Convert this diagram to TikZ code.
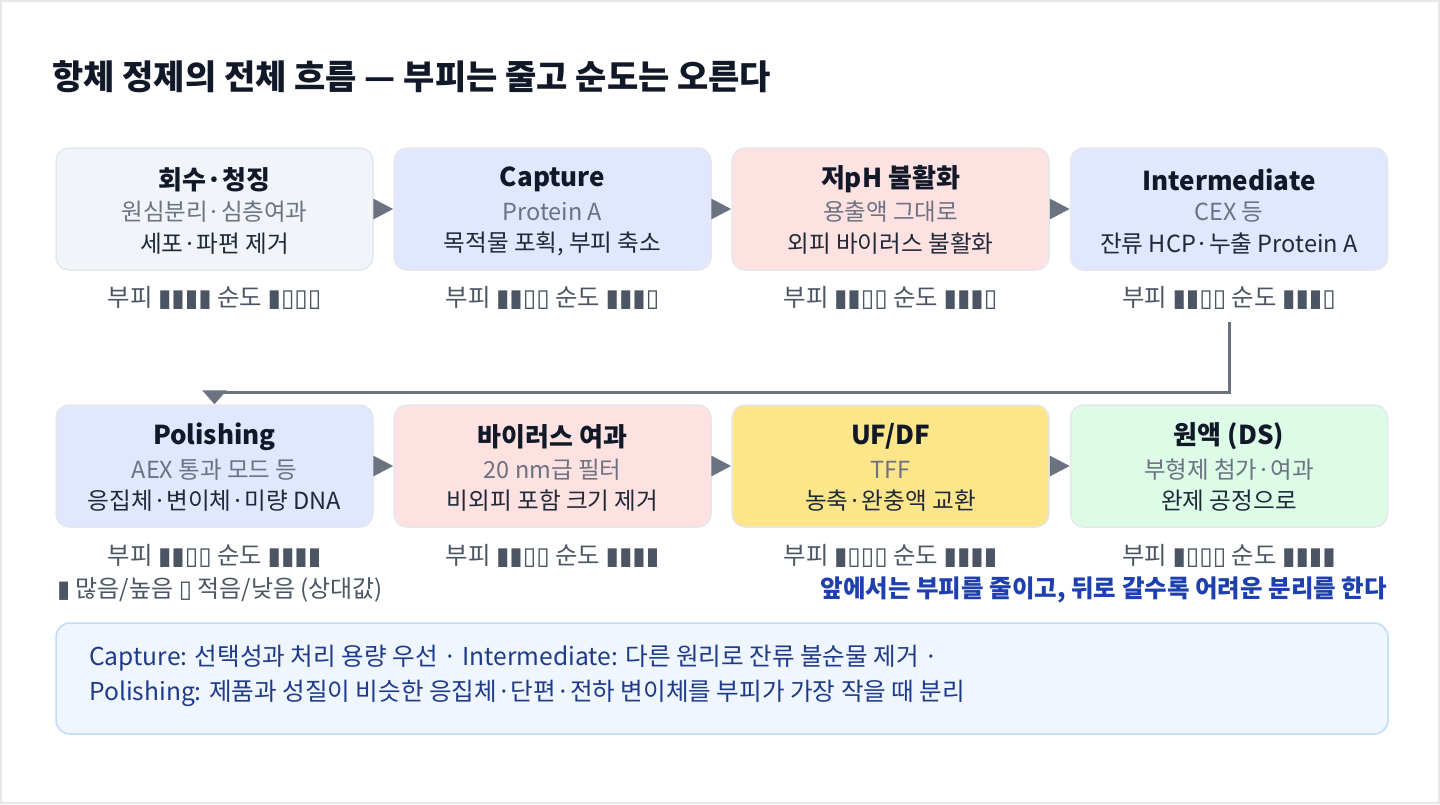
\documentclass[tikz,border=0pt]{standalone}
\usepackage{fontspec}
\setmainfont{Noto Sans CJK KR}
\newfontfamily\barfont{DejaVu Sans}
\usetikzlibrary{arrows.meta}
\definecolor{frame}{HTML}{E5E7EB}
\definecolor{ink}{HTML}{111827}
\definecolor{body}{HTML}{1F2937}
\definecolor{sub}{HTML}{6B7280}
\definecolor{ind}{HTML}{4B5563}
\definecolor{arrowc}{HTML}{6B7280}
\definecolor{fgray}{HTML}{F1F4F9}
\definecolor{findigo}{HTML}{E0E7FF}
\definecolor{fred}{HTML}{FEE2E2}
\definecolor{famber}{HTML}{FDE68A}
\definecolor{fgreen}{HTML}{DCFCE7}
\definecolor{tagc}{HTML}{1E40AF}
\definecolor{notefill}{HTML}{EFF6FF}
\definecolor{noteline}{HTML}{BFDBFE}
\definecolor{notetext}{HTML}{1E3A8A}
\newcommand\setfs[1]{\fontsize{#1}{#1}\selectfont}
\tikzset{
  stepbox/.style={draw=frame, line width=1.5pt, rounded corners=13pt, minimum width=317pt, minimum height=122pt, inner sep=0pt},
  ttl/.style={font=\setfs{26}\bfseries, text=ink, inner sep=0pt},
  subt/.style={font=\setfs{23.5}, text=sub, inner sep=0pt},
  bod/.style={font=\setfs{23.6}, text=body, inner sep=0pt},
  indt/.style={font=\setfs{24.4}, text=ind, inner sep=0pt},
  flow/.style={draw=arrowc, line width=3pt, -{Triangle[length=20pt,width=20pt]}, fill=arrowc},
  loopc/.style={draw=arrowc, line width=3pt, -{Triangle[length=14pt,width=24pt]}},
}
\newcommand\bars[1]{{\barfont #1}}
\begin{document}
\begin{tikzpicture}[x=1pt,y=-1pt]
\useasboundingbox (0,0) rectangle (1440,804);
\draw[frame, line width=2pt, fill=white] (1,1) rectangle (1439,803);

\node[anchor=west, font=\setfs{34}\bfseries, text=ink, inner sep=0pt] (title) at (52,77) {항체 정제의 전체 흐름 — 부피는 줄고 순도는 오른다};

% row 1
\node[stepbox, fill=fgray] (b1) at (214.5,209) {};
\node[stepbox, fill=findigo] (b2) at (552.5,209) {};
\node[stepbox, fill=fred] (b3) at (890.5,209) {};
\node[stepbox, fill=findigo] (b4) at (1229,209) {};
% row 2
\node[stepbox, fill=findigo] (b5) at (214.5,466) {};
\node[stepbox, fill=fred] (b6) at (552.5,466) {};
\node[stepbox, fill=famber] (b7) at (890.5,466) {};
\node[stepbox, fill=fgreen] (b8) at (1229,466) {};

% texts row 1
\node[ttl] (t1) at (214.5,179.5) {회수·청징};
\node[subt] (s1) at (214.5,212) {원심분리·심층여과};
\node[bod] (d1) at (214.5,244) {세포·파편 제거};
\node[ttl] (t2) at (552.5,179.5) {Capture};
\node[subt] (s2) at (552.5,212) {Protein A};
\node[bod] (d2) at (552.5,244) {목적물 포획, 부피 축소};
\node[ttl] (t3) at (890.5,179.5) {저pH 불활화};
\node[subt] (s3) at (890.5,212) {용출액 그대로};
\node[bod] (d3) at (890.5,244) {외피 바이러스 불활화};
\node[ttl] (t4) at (1229,179.5) {Intermediate};
\node[subt] (s4) at (1229,212) {CEX 등};
\node[bod] (d4) at (1229,244) {잔류 HCP·누출 Protein A};
% texts row 2
\node[ttl] (t5) at (214.5,436.5) {Polishing};
\node[subt] (s5) at (214.5,470) {AEX 통과 모드 등};
\node[bod] (d5) at (214.5,501) {응집체·변이체·미량 DNA};
\node[ttl] (t6) at (552.5,436.5) {바이러스 여과};
\node[subt] (s6) at (552.5,470) {20 nm급 필터};
\node[bod] (d6) at (552.5,501) {비외피 포함 크기 제거};
\node[ttl] (t7) at (890.5,436.5) {UF/DF};
\node[subt] (s7) at (890.5,470) {TFF};
\node[bod] (d7) at (890.5,501) {농축·완충액 교환};
\node[ttl] (t8) at (1229,436.5) {원액 (DS)};
\node[subt] (s8) at (1229,470) {부형제 첨가·여과};
\node[bod] (d8) at (1229,501) {완제 공정으로};

% indicators
\node[indt] (i1) at (214.5,298) {부피 \bars{▮▮▮▮} 순도 \bars{▮▯▯▯}};
\node[indt] (i2) at (552.5,298) {부피 \bars{▮▮▯▯} 순도 \bars{▮▮▮▯}};
\node[indt] (i3) at (890.5,298) {부피 \bars{▮▮▯▯} 순도 \bars{▮▮▮▯}};
\node[indt] (i4) at (1229,298) {부피 \bars{▮▮▯▯} 순도 \bars{▮▮▮▯}};
\node[indt] (i5) at (214.5,556) {부피 \bars{▮▮▯▯} 순도 \bars{▮▮▮▮}};
\node[indt] (i6) at (552.5,556) {부피 \bars{▮▮▯▯} 순도 \bars{▮▮▮▮}};
\node[indt] (i7) at (890.5,556) {부피 \bars{▮▯▯▯} 순도 \bars{▮▮▮▮}};
\node[indt] (i8) at (1229,556) {부피 \bars{▮▯▯▯} 순도 \bars{▮▮▮▮}};

% connectors
\draw[flow] (b1.east) -- (b2.west);
\draw[flow] (b2.east) -- (b3.west);
\draw[flow] (b3.east) -- (b4.west);
\draw[flow] (b5.east) -- (b6.west);
\draw[flow] (b6.east) -- (b7.west);
\draw[flow] (b7.east) -- (b8.west);
\coordinate (loopstart) at (1229,322);
\draw[loopc] (loopstart) -- (1229,392) -- (214.5,392) -- (b5.north);

% legend and tagline
\node[font=\setfs{24}, text=ind, inner sep=0pt, anchor=west] (legend) at (57,590) {\bars{▮} 많음/높음 \bars{▯} 적음/낮음 (상대값)};
\node[anchor=east, font=\setfs{24.5}\bfseries, text=tagc, inner sep=0pt] (tag) at (1387,590) {앞에서는 부피를 줄이고, 뒤로 갈수록 어려운 분리를 한다};

% note box
\node[draw=noteline, fill=notefill, line width=1.5pt, rounded corners=14pt, minimum width=1332pt, minimum height=111pt, inner sep=0pt] (note) at (722,678.5) {};
\node[anchor=west, font=\setfs{24.6}, text=notetext, inner sep=0pt] (n1) at (89,658) {Capture: 선택성과 처리 용량 우선 · Intermediate: 다른 원리로 잔류 불순물 제거 ·};
\node[anchor=west, font=\setfs{24.6}, text=notetext, inner sep=0pt] (n2) at (89,693) {Polishing: 제품과 성질이 비슷한 응집체·단편·전하 변이체를 부피가 가장 작을 때 분리};
\end{tikzpicture}
\end{document}
